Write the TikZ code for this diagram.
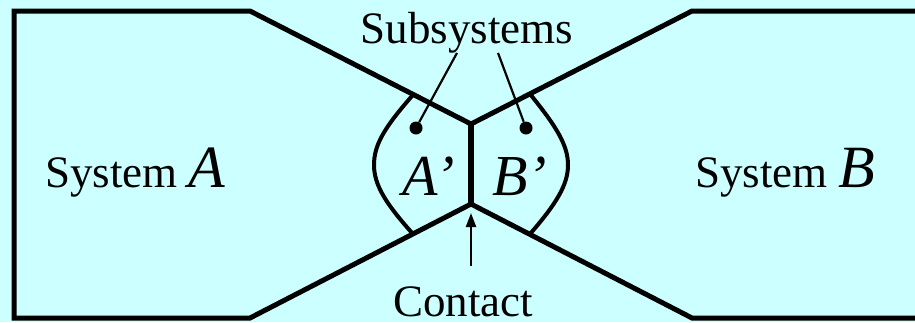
\documentclass[tikz,border=0pt]{standalone}
\usepackage{fontspec}
\setmainfont{Liberation Serif}
\usetikzlibrary{arrows.meta,positioning}
\definecolor{paleaqua}{RGB}{204,255,255}
\tikzset{
  >={Triangle[length=14pt,width=10pt]},
  wall/.style={line width=5pt},
  lens/.style={line width=4pt},
  lead/.style={line width=2.2pt},
  dot/.style={circle,fill=black,inner sep=0pt,minimum size=13pt},
  tag/.style={inner sep=0pt,font=\fontsize{45}{50}\selectfont},
  sym/.style={inner sep=0pt,font=\fontsize{58}{60}\selectfont\itshape},
}
\begin{document}
\begin{tikzpicture}[x=1pt,y=-1pt]
  \useasboundingbox (0,0) rectangle (915,322);
  \fill[paleaqua] (0,0) rectangle (915,322);
  % junction of the two systems
  \coordinate (jt) at (471,124);
  \coordinate (jb) at (471,204);
  % outlines of A and B
  \draw[wall] (930,11) -- (692,11) -- (jt) -- (250,11) -- (14,11)
    -- (14,318) -- (250,318) -- (jb) -- (692,318) -- (930,318);
  \draw[line width=6pt] (jt) -- (jb);
  % the two subsystems
  \draw[lens] (412,96) .. controls (384,128) and (374,145) .. (374,165)
    .. controls (374,185) and (386,204) .. (413,234);
  \draw[lens] (530,94) .. controls (556,126) and (568,145) .. (568,165)
    .. controls (568,185) and (556,204) .. (530,234);
  \node[dot] (dotA) at (416,128) {};
  \node[dot] (dotB) at (526,128) {};
  % labels
  \node[tag,anchor=base west] (sysA) at (45,187) {System {\fontsize{60}{60}\selectfont\itshape A}};
  \node[tag,anchor=base west] (sysB) at (695,187) {System {\fontsize{60}{60}\selectfont\itshape B}};
  \node[sym,anchor=base west] (primeA) at (402,195) {A’};
  \node[sym,anchor=base west] (primeB) at (492,195) {B’};
  \node[tag,anchor=base] (subs) at (467,43) {Subsystems};
  \node[tag,anchor=base] (contact) at (463,316) {Contact};
  \draw[lead] ([xshift=-10pt]subs.south) -- (dotA);
  \draw[lead] ([xshift=31pt]subs.south) -- (dotB);
  \coordinate (tail) at (471,266);
  \draw[lead,->,shorten >=9pt] (tail) -- (jb);
\end{tikzpicture}
\end{document}
